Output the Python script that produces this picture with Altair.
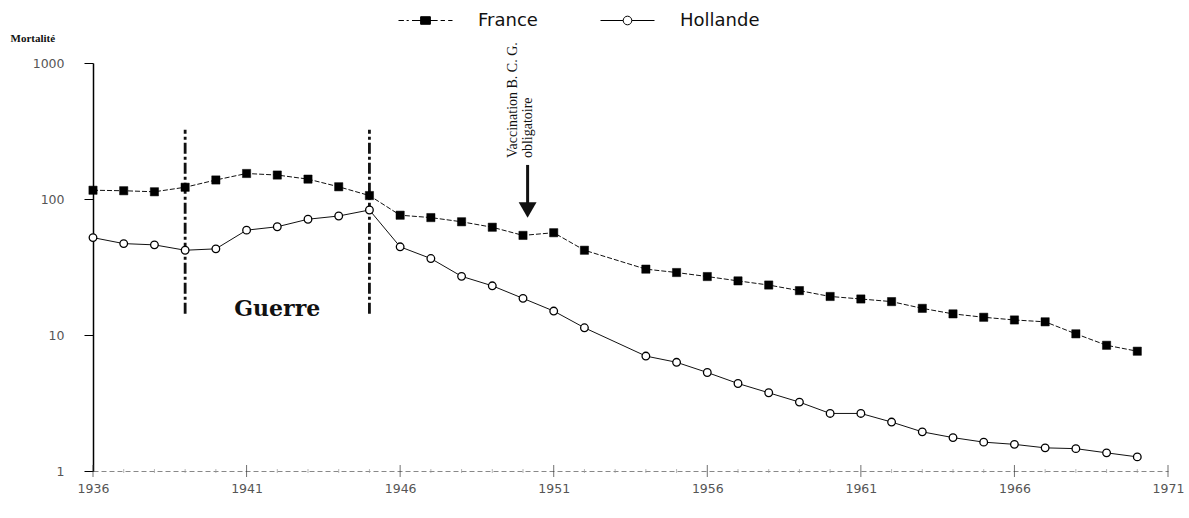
import altair as alt
import pandas as pd

# ---- data ----
annees = [1936, 1937, 1938, 1939, 1940, 1941, 1942, 1943, 1944, 1945, 1946,
          1947, 1948, 1949, 1950, 1951, 1952,
          1954, 1955, 1956, 1957, 1958, 1959, 1960, 1961, 1962, 1963, 1964,
          1965, 1966, 1967, 1968, 1969, 1970]
france = [116, 115, 113, 122, 138, 154, 150, 140, 123, 106, 76,
          73, 68, 62, 54, 56.5, 42,
          30.5, 28.8, 26.9, 25, 23.3, 21.2, 19.2, 18.4, 17.6, 15.7, 14.3,
          13.5, 12.9, 12.5, 10.2, 8.4, 7.6]
hollande = [52, 47, 46, 42, 43, 59, 62.5, 71, 75, 83, 44.5,
            36.5, 27, 23, 18.6, 15, 11.3,
            7.0, 6.3, 5.3, 4.4, 3.76, 3.21, 2.65, 2.65, 2.29, 1.94, 1.76,
            1.63, 1.57, 1.48, 1.46, 1.36, 1.27]

x_ticks = [1936, 1941, 1946, 1951, 1956, 1961, 1966, 1971]
x_minor = [1937, 1938, 1939, 1940, 1942, 1943, 1944, 1945, 1947, 1948, 1949,
           1950, 1952, 1953, 1954, 1955, 1957, 1958, 1959, 1960, 1962, 1963,
           1964, 1965, 1967, 1968, 1969, 1970]
y_ticks = [1, 10, 100, 1000]

guerre_annees = [1939, 1945]
guerre_bas = 14.3
guerre_haut = 323
guerre_label = ["Guerre"]
guerre_label_annee = [1942]
guerre_label_val = [15.5]

bcg_annee = [1950.15]
bcg_haut = [178]
bcg_bas = [84]
bcg_pointe = [83]
bcg_texte_val = [200]
bcg_texte = ["Vaccination B. C. G.", "obligatoire"]

# ---- tables ----
n = len(annees)
df = pd.DataFrame({
    "annee": annees * 2,
    "pays": ["France"] * n + ["Hollande"] * n,
    "mortalite": france + hollande,
})
df_fr = df[df.pays == "France"]
df_ho = df[df.pays == "Hollande"]
df_guerre = pd.DataFrame({"annee": guerre_annees,
                          "bas": [guerre_bas] * 2, "haut": [guerre_haut] * 2})
df_glabel = pd.DataFrame({"annee": guerre_label_annee, "val": guerre_label_val,
                          "txt": guerre_label})
df_bcg = pd.DataFrame({"annee": bcg_annee, "haut": bcg_haut, "bas": bcg_bas,
                       "pointe": bcg_pointe, "tval": bcg_texte_val})
df_ticks = pd.DataFrame({"annee": x_ticks, "un": [1] * len(x_ticks)})
df_minor = pd.DataFrame({"annee": x_minor, "un": [1] * len(x_minor)})

# ---- scales / axes ----
xscale = alt.Scale(domain=[1936, 1971], nice=False, zero=False)
yscale = alt.Scale(type="log", domain=[1, 1000], nice=False)

x_axis = alt.Axis(values=x_ticks, format="d", ticks=False, labelPadding=11,
                  labelFont="DejaVu Sans", labelFontSize=12.5, labelColor="#555",
                  labelFlush=False, domainColor="#888", domainDash=[5, 3],
                  domainWidth=1, grid=False, title=None)
y_axis = alt.Axis(values=y_ticks, format="d", tickSize=9, tickColor="black",
                  tickWidth=1, labelPadding=20, labelFont="DejaVu Sans",
                  labelFontSize=12.5, labelColor="#555", domainColor="black",
                  domainWidth=1.5, grid=False, title="Mortalité", titleAngle=0,
                  titleX=-83, titleY=-25, titleAlign="left",
                  titleBaseline="middle", titleFont="Liberation Serif",
                  titleFontWeight="bold", titleFontSize=11, titleColor="#111")


def X(f):
    return alt.X(f"{f}:Q", scale=xscale, axis=x_axis, title=None)


def Y(f):
    return alt.Y(f"{f}:Q", scale=yscale, axis=y_axis, title="Mortalité")


path_fr = ("M-1,0L-0.8,0M-0.7,0L-0.62,0M-0.5,0L0.45,0M0.56,0L0.72,0"
           "M0.84,0L1,0M-0.18,-0.14L0.18,-0.14L0.18,0.14L-0.18,0.14Z")
path_ho = ("M-1,0L-0.16,0M0.16,0L1,0"
           "M0.16,0A0.16,0.16,0,1,1,-0.16,0A0.16,0.16,0,1,1,0.16,0Z")

leg_common = dict(title=None, orient="none", symbolSize=2916,
                  symbolStrokeWidth=1, labelFont="DejaVu Sans", labelFontSize=18,
                  labelColor="#111", labelOffset=25, padding=0, symbolOpacity=1)

# ---- layers ----
war = alt.Chart(df_guerre).mark_rule(strokeWidth=2.8, color="#111",
                                     strokeDash=[11, 3, 3, 3]).encode(
    x=X("annee"), y=Y("bas"), y2="haut:Q")

line_fr = alt.Chart(df_fr).mark_line(color="#111", strokeWidth=1,
                                     strokeDash=[5, 2]).encode(
    x=X("annee"), y=Y("mortalite"))
line_ho = alt.Chart(df_ho).mark_line(color="#111", strokeWidth=1).encode(
    x=X("annee"), y=Y("mortalite"))

pts_fr = alt.Chart(df_fr).mark_point(shape="square", filled=True, size=68,
                                     stroke="black", strokeWidth=0.5,
                                     opacity=1).encode(
    x=X("annee"), y=Y("mortalite"),
    fill=alt.Fill("pays:N", scale=alt.Scale(range=["black"]),
                  legend=alt.Legend(symbolType=path_fr, legendX=305,
                                    legendY=-70, symbolStrokeColor="black",
                                    **leg_common)))

pts_ho = alt.Chart(df_ho).mark_point(shape="circle", filled=True, fill="white",
                                     size=58, strokeWidth=1.3,
                                     opacity=1).encode(
    x=X("annee"), y=Y("mortalite"),
    stroke=alt.Stroke("pays:N", scale=alt.Scale(range=["black"]),
                      legend=alt.Legend(symbolType=path_ho, legendX=507,
                                        legendY=-70, symbolFillColor="white",
                                        **leg_common)))

glabel = alt.Chart(df_glabel).mark_text(font="DejaVu Serif", fontWeight="bold",
                                        fontSize=22, color="#111").encode(
    x=X("annee"), y=Y("val"), text="txt:N")

arrow = alt.Chart(df_bcg).mark_rule(strokeWidth=3, color="#111").encode(
    x=X("annee"), y=Y("haut"), y2="bas:Q")
arrow_head = alt.Chart(df_bcg).mark_point(shape="triangle-down", filled=True,
                                          size=320, color="#111",
                                          opacity=1).encode(
    x=X("annee"), y=Y("pointe"))
bcg_txt = alt.Chart(df_bcg).mark_text(angle=270, align="left", baseline="middle",
                                      font="Liberation Serif", fontSize=14,
                                      lineHeight=15, dy=-15, color="#111").encode(
    x=X("annee"), y=Y("tval"), text=alt.value(bcg_texte))

ticks_major = alt.Chart(df_ticks).mark_tick(orient="vertical", size=12,
                                            thickness=1, color="#333").encode(
    x=X("annee"), y=Y("un"))
ticks_minor = alt.Chart(df_minor).mark_tick(orient="vertical", size=4,
                                            thickness=1, color="#999").encode(
    x=X("annee"), y=Y("un"))

chart = alt.layer(ticks_minor, ticks_major, war, line_fr, line_ho, pts_fr,
                  pts_ho, glabel, arrow, arrow_head, bcg_txt).properties(
    width=1075, height=408,
    padding={"left": 93, "top": 63, "right": 21, "bottom": 47},
    autosize=alt.AutoSizeParams(type="none"),
    background="white",
).configure_view(stroke=None)

chart.save("out.html", embed_options={"renderer": "svg", "actions": False})
